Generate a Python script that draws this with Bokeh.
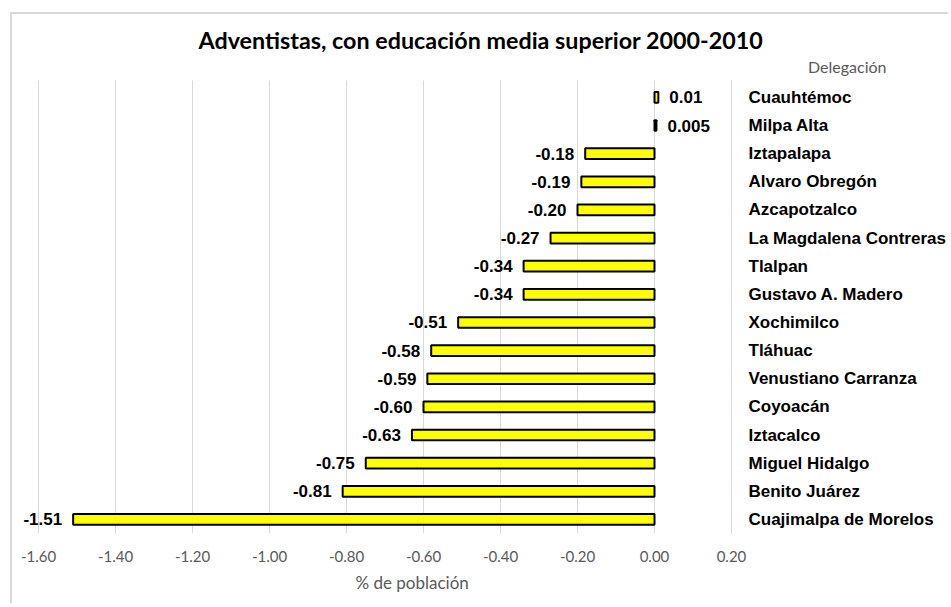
from bokeh.plotting import figure
from bokeh.models import ColumnDataSource, Range1d, FixedTicker, NumeralTickFormatter, Title
from bokeh.core.properties import value
from bokeh.embed import file_html
from bokeh.resources import INLINE

# ---------------- data ----------------
delegaciones = ["Cuauhtémoc", "Milpa Alta", "Iztapalapa", "Alvaro Obregón", "Azcapotzalco",
                "La Magdalena Contreras", "Tlalpan", "Gustavo A. Madero", "Xochimilco",
                "Tláhuac", "Venustiano Carranza", "Coyoacán", "Iztacalco", "Miguel Hidalgo",
                "Benito Juárez", "Cuajimalpa de Morelos"]
valores = [0.01, 0.005, -0.18, -0.19, -0.20, -0.27, -0.34, -0.34, -0.51, -0.58, -0.59,
           -0.60, -0.63, -0.75, -0.81, -1.51]
etiquetas = ["0.01", "0.005", "-0.18", "-0.19", "-0.20", "-0.27", "-0.34", "-0.34", "-0.51",
             "-0.58", "-0.59", "-0.60", "-0.63", "-0.75", "-0.81", "-1.51"]
x_ticks = [-1.6, -1.4, -1.2, -1.0, -0.8, -0.6, -0.4, -0.2, 0.0, 0.2]
titulo = "Adventistas, con educación media superior 2000-2010"
eje_y_titulo = "Delegación"
eje_x_titulo = "% de población"

# ---------------- geometry (page pixels) ----------------
W, H = 938, 591
OX, OY = 12, 14                  # canvas origin on the page
PA_L, PA_R = 38, 731             # plot-area x extent (-1.6 .. 0.2)
PA_T, PA_B = 80, 533             # plot-area y extent
FR_T = 53                        # frame top on the page
X0, X1 = -1.6, 0.2
PA_YT, PA_YB = -0.6, 15.5        # category coordinates of plot-area top / bottom

ppu_x = (PA_R - PA_L) / (X1 - X0)
ppu_y = (PA_B - PA_T) / (PA_YB - PA_YT)

def xd(px):
    return X0 + (px - PA_L) / ppu_x

def yd(py):
    return PA_YT + (py - PA_T) / ppu_y

idx = list(range(len(delegaciones)))
src = ColumnDataSource(dict(y=idx, v=valores, name=delegaciones,
                            xr=[X1] * len(idx)))
neg = [i for i in idx if valores[i] < 0]
pos = [i for i in idx if valores[i] >= 0]
src_neg = ColumnDataSource(dict(y=neg, v=[valores[i] for i in neg],
                                lab=[etiquetas[i] for i in neg]))
src_pos = ColumnDataSource(dict(y=pos, v=[valores[i] for i in pos],
                                lab=[etiquetas[i] for i in pos]))
grid_src = ColumnDataSource(dict(x=x_ticks, y0=[PA_YB] * len(x_ticks),
                                 y1=[PA_YT] * len(x_ticks)))

p = figure(width=W, height=H, output_backend="svg", toolbar_location=None,
           x_range=Range1d(xd(OX), xd(OX + W)), y_range=Range1d(PA_YB, yd(FR_T)),
           y_axis_location=None, x_axis_location="below",
           min_border=0, min_border_left=0, min_border_right=0,
           min_border_top=FR_T - OY, min_border_bottom=H - (PA_B - OY),
           background_fill_color="white", border_fill_color="white")
p.styles = {"margin-left": "10px", "margin-top": "12px",
            "border-left": "2px solid #d9d9d9", "border-top": "2px solid #d9d9d9"}
p.outline_line_color = None
p.xgrid.visible = False
p.ygrid.visible = False

# title
p.title.text = titulo
p.title.align = "left"
p.title.offset = 186
p.title.standoff = 0
p.title.text_font = "Lato"
p.title.text_font_style = "bold"
p.title.text_font_size = "23.3px"
p.title.text_color = "black"

# x axis
p.xaxis.ticker = FixedTicker(ticks=x_ticks)
p.xaxis.formatter = NumeralTickFormatter(format="0.00")
p.xaxis.axis_line_color = None
p.xaxis.major_tick_line_color = None
p.xaxis.minor_tick_line_color = None
p.xaxis.major_label_standoff = 11
p.xaxis.major_label_text_font = "Lato"
p.xaxis.major_label_text_font_size = "15px"
p.xaxis.major_label_text_color = "#595959"

p.add_layout(Title(text=eje_x_titulo, align="left", offset=343, text_font="Lato",
                   text_font_size="17px", text_font_style="normal",
                   text_color="#595959"), "below")

# gridlines
p.segment(x0="x", x1="x", y0="y0", y1="y1", source=grid_src,
          line_color="#d9d9d9", line_width=1)

# bars
p.hbar(y="y", left=0, right="v", height=0.38, source=src,
       fill_color="#FFFF00", line_color="black", line_width=2)

# data labels
p.text(x="v", y="y", text="lab", source=src_neg, x_offset=-11,
       text_align="right", text_baseline="middle",
       text_font=value("Liberation Sans"), text_font_style="bold",
       text_font_size="17px", text_color="black")
p.text(x="v", y="y", text="lab", source=src_pos, x_offset=11,
       text_align="left", text_baseline="middle",
       text_font=value("Liberation Sans"), text_font_style="bold",
       text_font_size="17px", text_color="black")

# category labels
p.text(x="xr", y="y", text="name", source=src, x_offset=17,
       text_align="left", text_baseline="middle",
       text_font=value("Liberation Sans"), text_font_style="bold",
       text_font_size="17px", text_color="black")

# category axis title
p.text(x=[xd(886)], y=[yd(66)], text=[eje_y_titulo], text_align="right",
       text_baseline="middle", text_font=value("Lato"),
       text_font_size="16px", text_color="#595959")

open("out.html", "w").write(file_html(p, INLINE))
